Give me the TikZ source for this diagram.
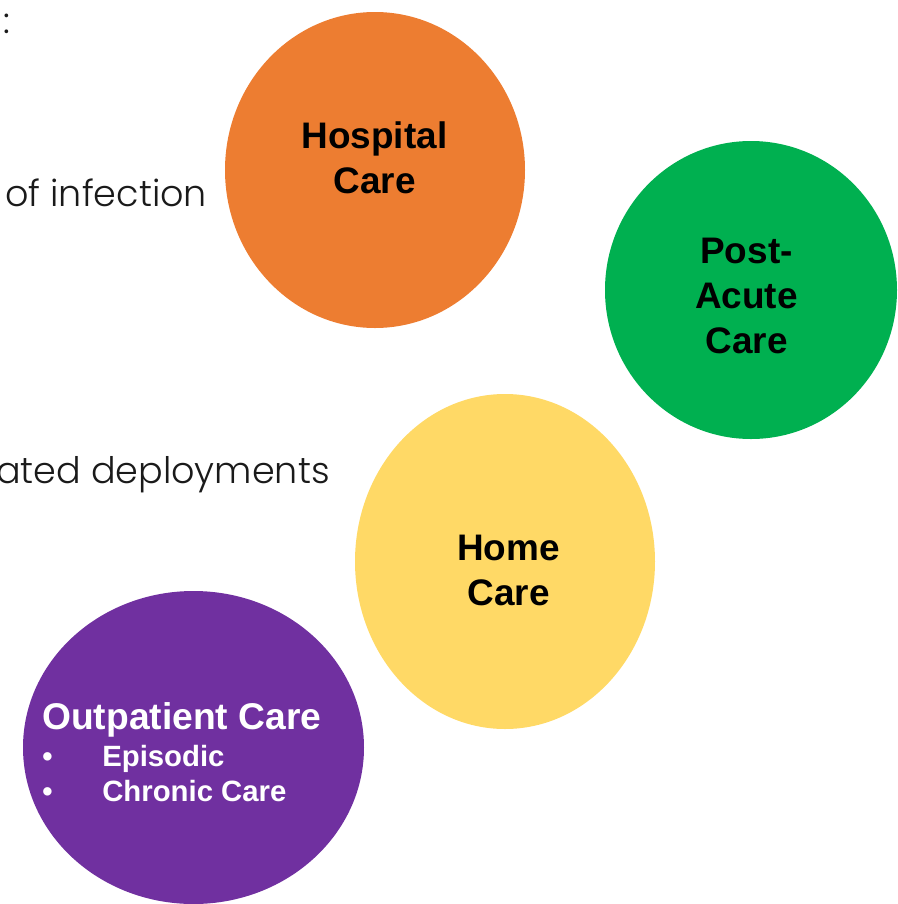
\documentclass[tikz,border=0pt]{standalone}
\usepackage{fontspec}
\setmainfont{Liberation Sans}
\newfontfamily\thinfont{Poppins Light}
\definecolor{orangec}{HTML}{ED7D31}
\definecolor{greenc}{HTML}{00B050}
\definecolor{yellowc}{HTML}{FFD966}
\definecolor{purplec}{HTML}{7030A0}
\definecolor{bodyc}{HTML}{1A1A1A}
\tikzset{
  capt/.style={font=\bfseries\fontsize{27.7pt}{33.75pt}\selectfont,align=center,text=black,inner sep=0pt},
  head/.style={font=\bfseries\fontsize{27.9pt}{33pt}\selectfont,text=white,anchor=base west,inner sep=0pt},
  sub/.style={font=\bfseries\fontsize{22pt}{26pt}\selectfont,text=white,anchor=base west,inner sep=0pt},
  plain/.style={font=\thinfont\fontsize{27.4pt}{30pt}\selectfont,text=bodyc,anchor=base west,inner sep=0pt},
}
\begin{document}
\begin{tikzpicture}[x=0.75pt,y=-0.75pt]
\useasboundingbox (0,0) rectangle (897,904);
\fill[orangec] (375,170) ellipse [x radius=150,y radius=158];
\fill[greenc] (751,290) ellipse [x radius=146,y radius=149];
\fill[yellowc] (505,561.5) ellipse [x radius=150,y radius=167.5];
\fill[purplec] (193.5,747.5) ellipse [x radius=170.5,y radius=156.5];
\node[capt] (h) at (374.5,158) {Hospital\\Care};
\node[capt] (p) at (746.5,295.5) {Post-\\Acute\\Care};
\node[capt] (c) at (508.5,570) {Home\\Care};
\node[head] (o) at (42,729) {Outpatient Care};
\node[sub] (b1) at (42,766) {•};
\node[sub] (e) at (102,766) {Episodic};
\node[sub] (b2) at (42,801) {•};
\node[sub] (cc) at (102,801) {Chronic Care};
\node[plain] (t0) at (3,33) {:};
\node[plain] (t1) at (5,206) {of infection};
\node[plain,anchor=base east] (t2) at (330,483) {ated deployments};
\end{tikzpicture}
\end{document}
